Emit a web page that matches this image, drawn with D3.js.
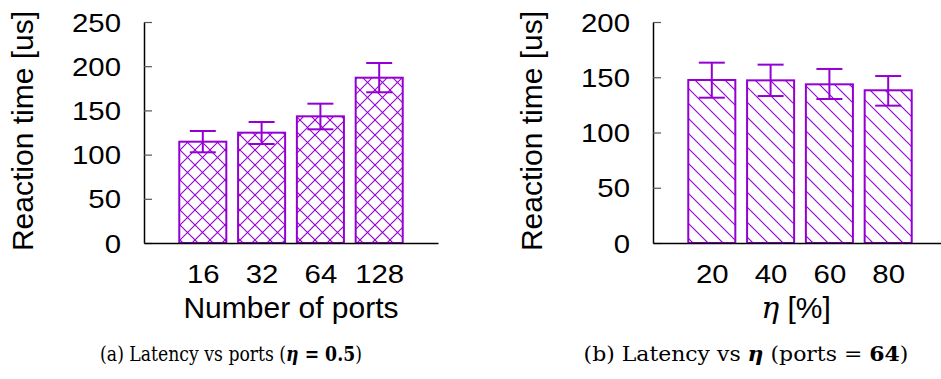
<!DOCTYPE html>
<html>
<head>
<meta charset="utf-8">
<script src="https://cdn.jsdelivr.net/npm/d3@7"></script>
<style>
  body { margin: 0; background: #fff; }
</style>
</head>
<body>
<script>
// data
const portLabels = ["16", "32", "64", "128"];
const portMean = [114.6, 124.8, 143.3, 187.0];
const portLow = [102.6, 112.0, 128.6, 170.5];
const portHigh = [126.7, 136.9, 157.6, 203.6];
const portTicks = [0, 50, 100, 150, 200, 250];

const etaLabels = ["20", "40", "60", "80"];
const etaMean = [147.5, 147.2, 143.6, 138.2];
const etaLow = [131.5, 133.0, 130.3, 124.3];
const etaHigh = [163.2, 161.4, 157.5, 151.1];
const etaTicks = [0, 50, 100, 150, 200];

const purple = "#9400d3";
const W = 941, H = 379;
const yTop = 22, yBase = 243, span = 294;
const stretch = 1.13; // figure looks a bit wider than tall
const gap = 15;       // hatch spacing

const svg = d3.select("body").append("svg")
    .attr("width", W)
    .attr("height", H);

const defs = svg.append("defs");

// hatch lines inside one bar rectangle; dirs: 1 = "\", -1 = "/"
function hatchBar(g, id, bx, by, bw, bh, dirs) {
    defs.append("clipPath").attr("id", id)
        .append("rect")
        .attr("x", bx).attr("y", by)
        .attr("width", bw).attr("height", bh);
    const hg = g.append("g")
        .attr("clip-path", `url(#${id})`)
        .attr("stroke", purple)
        .attr("stroke-width", 1.1);
    const y1 = by, y2 = by + bh;
    dirs.forEach(dir => {
        let lo, hi;
        if (dir === 1) { lo = bx - y2; hi = bx + bw - y1; }
        else { lo = bx + y1; hi = bx + bw + y2; }
        const cs = d3.range(Math.floor(lo / gap) * gap, hi + gap, gap);
        hg.selectAll(null)
            .data(cs)
            .enter()
            .append("line")
            .attr("x1", c => dir === 1 ? c + y1 : c - y1)
            .attr("y1", y1)
            .attr("x2", c => dir === 1 ? c + y2 : c - y2)
            .attr("y2", y2);
    });
}

function panel(x0, labels, mean, low, high, ticks, yMax, name, dirs) {
    const x = d3.scaleLinear().domain([0, 5]).range([x0, x0 + span]);
    const y = d3.scaleLinear().domain([0, yMax]).range([yBase, yTop]);
    const bw = (x(1) - x(0)) * 0.8;
    const g = svg.append("g");

    // hatch fill
    mean.forEach((d, i) => {
        hatchBar(g, `${name}-clip-${i}`, x(i + 1) - bw / 2, y(d), bw, yBase - y(d), dirs);
    });

    // bar outlines
    g.selectAll("rect.bar")
        .data(mean)
        .enter()
        .append("rect")
        .attr("class", "bar")
        .attr("x", (d, i) => x(i + 1) - bw / 2)
        .attr("y", d => y(d))
        .attr("width", bw)
        .attr("height", d => yBase - y(d))
        .attr("fill", "none")
        .attr("stroke", purple)
        .attr("stroke-width", 2);

    // error bars
    const eb = g.selectAll("g.err")
        .data(mean.map((d, i) => ({ i: i, lo: low[i], hi: high[i] })))
        .enter()
        .append("g")
        .attr("stroke", purple)
        .attr("stroke-width", 2);
    eb.append("line")
        .attr("x1", d => x(d.i + 1)).attr("x2", d => x(d.i + 1))
        .attr("y1", d => y(d.lo)).attr("y2", d => y(d.hi));
    eb.append("line")
        .attr("x1", d => x(d.i + 1) - 13).attr("x2", d => x(d.i + 1) + 13)
        .attr("y1", d => y(d.hi)).attr("y2", d => y(d.hi));
    eb.append("line")
        .attr("x1", d => x(d.i + 1) - 13).attr("x2", d => x(d.i + 1) + 13)
        .attr("y1", d => y(d.lo)).attr("y2", d => y(d.lo));

    // y axis, ticks pointing inward
    const ya = g.append("g")
        .attr("transform", `translate(${x0},0)`)
        .call(d3.axisLeft(y).tickValues(ticks).tickSizeInner(-8).tickSizeOuter(0));
    ya.select(".domain").attr("stroke", "#000").attr("stroke-width", 1.5);
    ya.selectAll(".tick line").attr("stroke", "#555").attr("stroke-width", 1.2);
    ya.selectAll(".tick text")
        .attr("x", -23 / stretch)
        .attr("dy", 9)
        .attr("transform", `scale(${stretch},1)`)
        .attr("font-family", "Liberation Sans, Arial, sans-serif")
        .attr("font-size", 26)
        .attr("fill", "#000");

    // x axis
    const xAx = g.append("g")
        .attr("transform", `translate(0,${yBase})`)
        .call(d3.axisBottom(x)
            .tickValues([1, 2, 3, 4])
            .tickFormat(i => labels[i - 1])
            .tickSize(0));
    xAx.select(".domain").attr("stroke", "#000").attr("stroke-width", 1.5);
    xAx.selectAll(".tick text")
        .attr("y", 40)
        .attr("dy", 0)
        .attr("transform", `scale(${stretch},1)`)
        .attr("font-family", "Liberation Sans, Arial, sans-serif")
        .attr("font-size", 26)
        .attr("fill", "#000");

    return x;
}

panel(144, portLabels, portMean, portLow, portHigh, portTicks, 250, "ports", [1, -1]);
panel(653, etaLabels, etaMean, etaLow, etaHigh, etaTicks, 200, "eta", [1]);

// y titles
[[33, 131], [542, 131]].forEach(p => {
    svg.append("text")
        .attr("transform", `translate(${p[0]},${p[1]}) rotate(-90)`)
        .attr("text-anchor", "middle")
        .attr("font-family", "Liberation Sans, Arial, sans-serif")
        .attr("font-size", 30)
        .text("Reaction time [us]");
});

// x titles
svg.append("text")
    .attr("x", 291)
    .attr("y", 318)
    .attr("text-anchor", "middle")
    .attr("font-family", "Liberation Sans, Arial, sans-serif")
    .attr("font-size", 30)
    .text("Number of ports");

const eta = svg.append("text")
    .attr("x", 796)
    .attr("y", 318)
    .attr("text-anchor", "middle")
    .attr("font-family", "Liberation Sans, Arial, sans-serif")
    .attr("font-size", 30);
eta.append("tspan")
    .attr("font-family", "DejaVu Serif, serif")
    .attr("font-style", "italic")
    .text("η");
eta.append("tspan").text(" [%]");

// captions: serif, squeezed to the width seen in the figure
function caption(cx, len, parts) {
    const t = svg.append("text")
        .attr("x", 0)
        .attr("y", 0)
        .attr("text-anchor", "middle")
        .attr("font-family", "DejaVu Serif, serif")
        .attr("font-size", 19.5)
        .attr("fill", "#000");
    parts.forEach(p => {
        t.append("tspan")
            .attr("font-weight", p[1] ? "bold" : "normal")
            .attr("font-style", p[2] ? "italic" : "normal")
            .text(p[0]);
    });
    const k = len / t.node().getComputedTextLength();
    t.attr("transform", `translate(${cx},361) scale(${k},1)`);
}
caption(231, 262, [["(a) Latency vs ports (", 0, 0], ["η", 1, 1], [" = 0.5", 1, 0], [")", 0, 0]]);
caption(746, 325, [["(b) Latency vs ", 0, 0], ["η", 1, 1], [" (ports = ", 0, 0], ["64", 1, 0], [")", 0, 0]]);
</script>
</body>
</html>
